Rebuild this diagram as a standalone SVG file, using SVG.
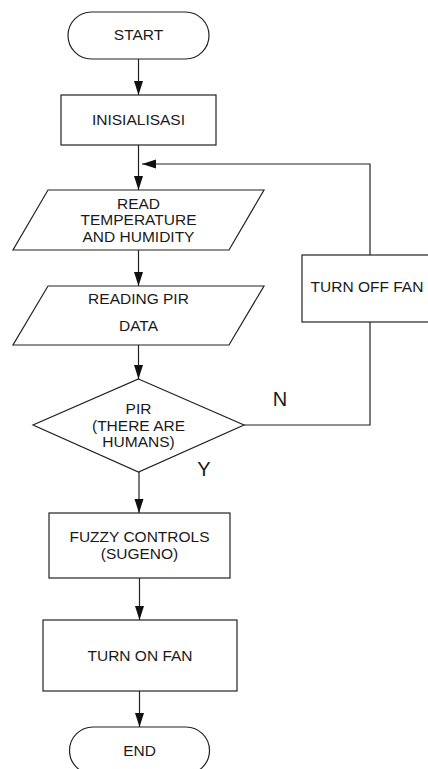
<svg xmlns="http://www.w3.org/2000/svg" width="428" height="769" viewBox="0 0 428 769">
<defs>
<marker id="ah" markerUnits="userSpaceOnUse" markerWidth="14" markerHeight="10" refX="14" refY="4.5" orient="auto">
<path d="M0,0 L14,4.5 L0,9 z" fill="#111"/>
</marker>
</defs>
<style>
.s{fill:#fff;stroke:#222;stroke-width:1.2}
.c{fill:none;stroke:#222;stroke-width:1.2}
.t{font-family:"Liberation Sans",Arial,sans-serif;font-size:15.5px;fill:#1a1a1a;text-anchor:middle}
.l{font-family:"Liberation Sans",Arial,sans-serif;font-size:20px;fill:#1a1a1a;text-anchor:middle}
</style>
<rect width="428" height="769" fill="#fff"/>
<g id="connectors">
<line class="c" x1="138.5" y1="59" x2="138.5" y2="95" marker-end="url(#ah)"/>
<line class="c" x1="138.5" y1="145" x2="138.5" y2="190" marker-end="url(#ah)"/>
<line class="c" x1="138.5" y1="250" x2="138.5" y2="286" marker-end="url(#ah)"/>
<line class="c" x1="138.5" y1="345" x2="138.5" y2="379" marker-end="url(#ah)"/>
<line class="c" x1="139" y1="472" x2="139" y2="513" marker-end="url(#ah)"/>
<line class="c" x1="139.5" y1="578" x2="139.5" y2="620" marker-end="url(#ah)"/>
<line class="c" x1="139.5" y1="691" x2="139.5" y2="727" marker-end="url(#ah)"/>
<polyline class="c" points="244,425 370,425 370,322"/>
<polyline class="c" points="370,255 370,164 142,164" marker-end="url(#ah)"/>
</g>
<g id="start">
<rect class="s" x="68" y="12" width="141" height="47" rx="23.5"/>
<text class="t" x="138.5" y="39.5">START</text>
</g>
<g id="init">
<rect class="s" x="61" y="95" width="155" height="50"/>
<text class="t" x="138.5" y="124.8">INISIALISASI</text>
</g>
<g id="read-temp">
<polygon class="s" points="48,190 264,190 229,250 13,250"/>
<text class="t" x="138.5" y="208.8">READ</text>
<text class="t" x="138.5" y="224.8">TEMPERATURE</text>
<text class="t" x="138.5" y="242.2">AND HUMIDITY</text>
</g>
<g id="read-pir">
<polygon class="s" points="48,286 264,286 229,345 13,345"/>
<text class="t" x="138.5" y="303.8">READING PIR</text>
<text class="t" x="138.5" y="330.5">DATA</text>
</g>
<g id="decision">
<polygon class="s" points="138.5,379 244,425 138.5,472 33,425"/>
<text class="t" x="138.5" y="413.8">PIR</text>
<text class="t" x="138.5" y="430.5">(THERE ARE</text>
<text class="t" x="138.5" y="447.2">HUMANS)</text>
</g>
<g id="label-n"><text class="l" x="280" y="406">N</text></g>
<g id="label-y"><text class="l" x="204" y="476">Y</text></g>
<g id="turn-off">
<rect class="s" x="302" y="255" width="140" height="67"/>
<text class="t" x="367" y="292.2">TURN OFF FAN</text>
</g>
<g id="fuzzy">
<rect class="s" x="49" y="513" width="181" height="65"/>
<text class="t" x="139.5" y="542.2">FUZZY CONTROLS</text>
<text class="t" x="139.5" y="558.8">(SUGENO)</text>
</g>
<g id="turn-on">
<rect class="s" x="43" y="620" width="194" height="71"/>
<text class="t" x="140" y="661.2">TURN ON FAN</text>
</g>
<g id="end">
<rect class="s" x="69.5" y="727" width="140" height="47" rx="23.5"/>
<text class="t" x="139.5" y="755.5">END</text>
</g>
</svg>
